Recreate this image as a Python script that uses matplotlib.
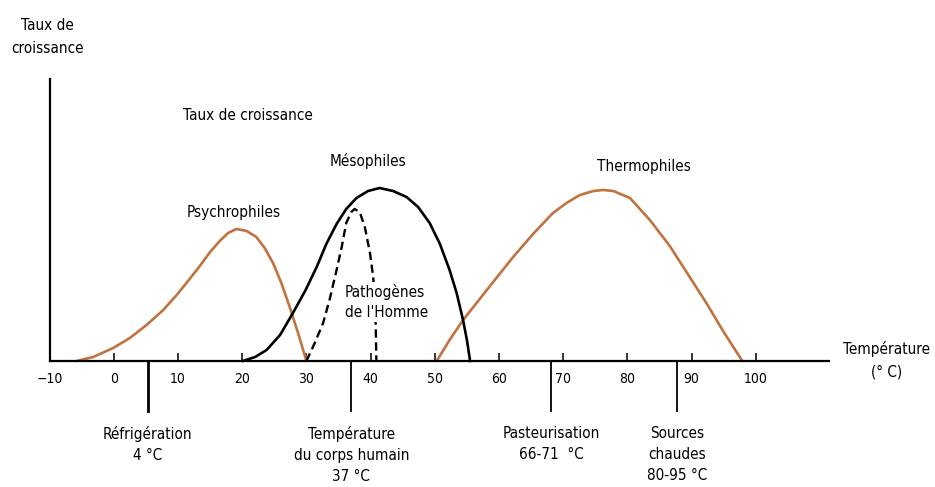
import matplotlib
matplotlib.use('Agg')
import matplotlib.pyplot as plt

plt.rcParams['font.family'] = ['DejaVu Sans']
plt.rcParams['font.stretch'] = 'condensed'

ORANGE = '#c0733f'

# growth curves (temperature °C, relative growth rate)
psy_t = [-5.8, -3.2, -0.1, 2.5, 5.1, 7.7, 9.8, 11.8, 13.4, 15.0, 16.5, 17.8, 19.1,
         20.7, 22.2, 23.5, 24.8, 26.1, 27.4, 28.7, 30.0]
psy_g = [0, 4, 13, 23, 36, 51, 66, 82, 95, 109, 120, 128, 132,
         130, 124, 113, 98, 78, 54, 28, 0]

meso_t = [20.1, 22.0, 23.8, 25.9, 27.9, 29.8, 31.6, 33.1, 34.7, 36.2, 37.8, 39.6, 41.4,
          43.5, 45.6, 47.4, 49.2, 50.8, 52.3, 53.4, 54.4, 55.0, 55.5]
meso_g = [0, 4, 11, 26, 48, 70, 94, 117, 137, 152, 163, 170, 173,
          170, 164, 154, 138, 117, 91, 68, 41, 21, 0]

path_t = [30.0, 31.3, 32.6, 33.6, 34.7, 35.5, 36.2, 37.0, 37.5, 38.3, 39.1, 39.9,
          40.4, 40.7, 40.8, 40.9]
path_g = [0, 18, 38, 61, 91, 114, 138, 149, 152, 149, 134, 108,
          84, 58, 34, 0]

thermo_t = [50.3, 52.3, 54.4, 58.1, 62.2, 65.3, 68.4, 70.5, 72.6, 74.7, 76.2, 77.8, 80.4,
            83.5, 86.6, 89.2, 92.3, 94.9, 97.9]
thermo_g = [0, 21, 41, 71, 104, 127, 148, 158, 166, 170, 171, 170, 163,
            141, 115, 89, 58, 30, 0]

ticks = list(range(-10, 101, 10))
tick_labels = ['\u221210'] + [str(t) for t in ticks[1:]]

# reference temperatures marked under the axis
refs = [5.3, 37.0, 68.1, 87.7]
ref_labels = ['Réfrigération\n4 °C', 'Température\ndu corps humain\n37 °C',
              'Pasteurisation\n66-71  °C', 'Sources\nchaudes\n80-95 °C']
ref_lw = [2.0, 1.3, 1.3, 1.3]

fig = plt.figure(figsize=(9.35, 4.87), dpi=100)
ax = fig.add_axes([49.6 / 935, 126 / 487, 779.4 / 935, 282 / 487])
ax.set_xlim(-10, 111.4)
ax.set_ylim(0, 282)
for s in ('top', 'right'):
    ax.spines[s].set_visible(False)
for s in ('left', 'bottom'):
    ax.spines[s].set_linewidth(1.6)
ax.set_yticks([])
ax.set_xticks(ticks)
ax.set_xticklabels(tick_labels, fontsize=10)
ax.tick_params(axis='x', direction='in', length=6, width=1.1, pad=8)

ax.plot(psy_t, psy_g, color=ORANGE, lw=1.9, clip_on=False)
ax.plot(thermo_t, thermo_g, color=ORANGE, lw=1.9, clip_on=False)
ax.plot(meso_t, meso_g, color='black', lw=1.9, clip_on=False)
ax.plot(path_t, path_g, color='black', lw=1.7, dashes=(3.5, 2), clip_on=False)

for x, lab, lw in zip(refs, ref_labels, ref_lw):
    ax.plot([x, x], [0, -50], color='black', lw=lw, clip_on=False)
    ax.text(x, -65, lab, ha='center', va='top', fontsize=11, linespacing=1.5)


def px(x, y):
    # pixel position in the reference -> data coords
    return (x - 114) / 6.42, 361 - y


kw = dict(fontsize=11, clip_on=False)
ax.text(*px(48, 37), 'Taux de\ncroissance', ha='center', va='center', linespacing=1.65, **kw)
ax.text(*px(248, 115), 'Taux de croissance', ha='center', va='center', **kw)
ax.text(*px(234, 213), 'Psychrophiles', ha='center', va='center', **kw)
ax.text(*px(368, 161), 'Mésophiles', ha='center', va='center', **kw)
ax.text(*px(644, 166), 'Thermophiles', ha='center', va='center', **kw)
ax.text(*px(345, 302), "Pathogènes\nde l'Homme", ha='left', va='center', linespacing=1.45,
        bbox=dict(fc='white', ec='none', pad=1), zorder=5, **kw)
ax.text(*px(887, 360), 'Température\n(° C)', ha='center', va='center', linespacing=1.6, **kw)

fig.savefig('out.png', dpi=100)
